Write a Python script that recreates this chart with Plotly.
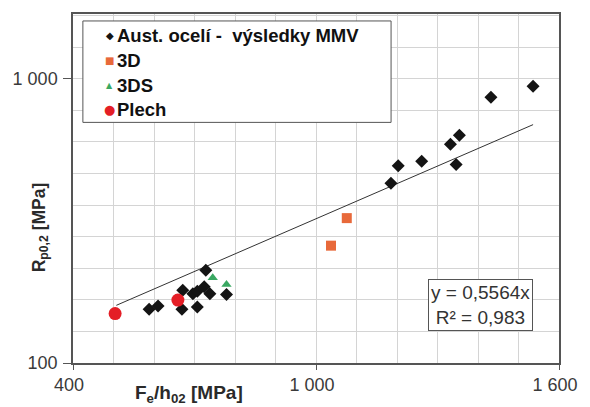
import plotly.graph_objects as go

# ---- data ----
aust_x = [588, 610, 671, 669, 696, 707, 707, 724, 728, 738, 779,
          1185, 1203, 1261, 1332, 1354, 1346, 1432, 1536]
aust_y = [154.5, 158.6, 180.4, 154.5, 175.3, 178.9, 157.3, 185.4, 212.0, 175.3, 174.2,
          428.3, 493.6, 512.6, 587.8, 632.0, 499.2, 860.4, 940.0]
d3_x = [1076, 1037]
d3_y = [323.2, 258.6]
d3s_x = [745, 779]
d3s_y = [199.3, 188.9]
plech_x = [504, 659]
plech_y = [149.2, 166.5]
trend_x = [507, 1536]
trend_y = [159.5, 689.0]

x_tickvals = [400, 1000, 1600]
x_ticktext = ["400", "1 000", "1 600"]
y_tickvals = [100, 1000]
y_ticktext = ["100", "1 000"]

names = ["Aust. ocelí -  výsledky MMV", "3D", "3DS", "Plech"]
eq_text = "y = 0,5564x<br>R² = 0,983"

FONT = "Liberation Sans, Arial, sans-serif"
colors = ["#141414", "#e8693a", "#3aa862", "#e41e26"]
symbols = ["diamond", "square", "triangle-up", "circle"]
plot_sizes = [10, 10, 9, 13]
legend_glyphs = ["◆", "■", "▲", "●"]
legend_glyph_sizes = [10, 10, 8, 13]
series = [(aust_x, aust_y), (d3_x, d3_y), (d3s_x, d3s_y), (plech_x, plech_y)]

# plot area geometry (pixels) used to place the hand-made legend
L, T, W, H = 73, 13, 492, 351


def px(xp):
    return (xp - L) / W


def py(yp):
    return (T + H - yp) / H


fig = go.Figure()
fig.add_trace(go.Scatter(x=trend_x, y=trend_y, mode="lines",
                         line=dict(color="#333333", width=1), showlegend=False,
                         hoverinfo="skip"))
for i, (sx, sy) in enumerate(series):
    fig.add_trace(go.Scatter(x=sx, y=sy, mode="markers", name=names[i],
                             showlegend=False,
                             marker=dict(symbol=symbols[i], size=plot_sizes[i],
                                         color=colors[i])))

x_grid = list(range(400, 1601, 100))
y_grid = [10 ** (2 + k / 9) for k in range(12)]

fig.update_layout(
    width=590, height=407,
    margin=dict(l=L, r=590 - L - W, t=T, b=407 - T - H),
    paper_bgcolor="white", plot_bgcolor="white",
    font=dict(family=FONT, color="#3a3a3a"),
    showlegend=False,
    xaxis=dict(range=[400, 1600], tickmode="array", tickvals=x_tickvals,
               ticktext=x_ticktext, ticks="outside", ticklen=5,
               tickcolor="#555555", showline=True, linecolor="#555555",
               linewidth=1.5, mirror=True, showgrid=False, zeroline=False,
               ticklabelshift=-4,
               tickfont=dict(size=18, color="#3a3a3a"),
               minor=dict(tickmode="array", tickvals=x_grid, showgrid=True,
                          gridcolor="#d4d4d4", gridwidth=1, ticks="")),
    yaxis=dict(type="log", range=[2, 3.2273], tickmode="array",
               tickvals=y_tickvals, ticktext=y_ticktext, ticks="outside",
               ticklen=8, tickcolor="#555555", showline=True,
               linecolor="#555555", linewidth=1.5, mirror=True,
               showgrid=False, zeroline=False, ticklabelstandoff=2,
               tickfont=dict(size=18, color="#3a3a3a"),
               minor=dict(tickmode="array", tickvals=y_grid, showgrid=True,
                          gridcolor="#d4d4d4", gridwidth=1, ticks="")),
)

# legend box
fig.add_shape(type="rect", xref="paper", yref="paper",
              x0=px(83), x1=px(395), y0=py(122), y1=py(20),
              line=dict(color="#555555", width=1), fillcolor="white", layer="above")
entry_y = [35, 60, 85, 109]
for i in range(4):
    fig.add_annotation(xref="paper", yref="paper", x=px(110), y=py(entry_y[i]),
                       xanchor="center", yanchor="middle", showarrow=False,
                       text=legend_glyphs[i],
                       font=dict(family="DejaVu Sans", size=legend_glyph_sizes[i],
                                 color=colors[i]))
    fig.add_annotation(xref="paper", yref="paper", x=px(116), y=py(entry_y[i]),
                       xanchor="left", yanchor="middle", showarrow=False,
                       text=f"<b>{names[i]}</b>",
                       font=dict(size=18.5, color="#111111"))

fig.add_annotation(xref="paper", yref="paper", x=-0.067, y=0.39,
                   xanchor="center", yanchor="middle",
                   text="<b>R<sub>p0,2</sub> [MPa]</b>", textangle=-90,
                   showarrow=False, font=dict(size=17.5, color="#2a2a2a"))
fig.add_annotation(xref="paper", yref="paper", x=0.238, y=-0.09,
                   xanchor="center", yanchor="middle",
                   text="<b>F<sub>e</sub>/h<sub>02</sub> [MPa]</b>",
                   showarrow=False, font=dict(size=19, color="#2a2a2a"))
fig.add_annotation(xref="paper", yref="paper", x=0.839, y=0.1667,
                   xanchor="center", yanchor="middle",
                   text=eq_text, showarrow=False, align="center",
                   font=dict(size=19, color="#333333"),
                   bordercolor="#555555", borderwidth=1, borderpad=2,
                   bgcolor="white")

fig.write_html("out.html", config={"displayModeBar": False},
               post_script="document.body.style.margin='0';")
